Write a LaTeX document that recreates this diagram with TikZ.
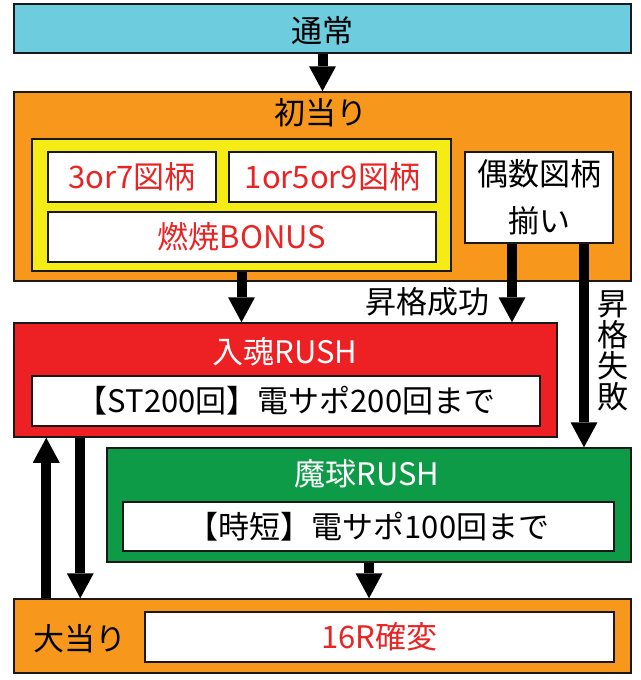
\documentclass[tikz,border=0pt]{standalone}
\usepackage{fontspec}
\newfontfamily\jpfont{Noto Sans CJK JP}
\usepackage{xcolor}
\usepackage{tikz}
\usetikzlibrary{arrows.meta}
\definecolor{tsujocyan}{HTML}{6DCCDD}
\definecolor{atariorange}{HTML}{F7981D}
\definecolor{bonusyellow}{HTML}{F6EC15}
\definecolor{konred}{HTML}{ED2024}
\definecolor{magreen}{HTML}{0E9B48}
\definecolor{txtred}{HTML}{EA2424}
\newcommand{\jpbig}{\jpfont\fontsize{31}{36}\selectfont}
\tikzstyle{panel} = [rectangle, draw=black!90, line width=1.5pt, inner sep=0pt, font=\jpbig]
\tikzstyle{whitebox} = [panel, fill=white]
\tikzstyle{caption} = [inner sep=0pt, font=\jpbig]
\tikzstyle{arrow} = [line width=10pt, -{Triangle[width=27pt,length=25pt,line width=0pt]}]

\begin{document}
\begin{tikzpicture}[x=1pt, y=-1pt]
    \useasboundingbox (0,0) rectangle (640,680);
    % Define blocks
    \node (tsujo) [panel, fill=tsujocyan, minimum width=617pt, minimum height=49pt] at (322.5,28.5) {};
    \node (tsujotxt) [caption] at (322,31) {通常};
    \node (hatsu) [panel, fill=atariorange, minimum width=617pt, minimum height=189pt] at (322.5,186.5) {};
    \node (hatsutxt) [caption] at (321,113) {初当り};
    \node (gold) [panel, fill=bonusyellow, minimum width=419pt, minimum height=132pt] at (241.5,205) {};
    \node (sanshichi) [whitebox, text=txtred, minimum width=168pt, minimum height=50pt] at (132,177) {3or7図柄};
    \node (ichigoku) [whitebox, text=txtred, minimum width=207pt, minimum height=50pt] at (332.5,177) {1or5or9図柄};
    \node (bonus) [whitebox, text=txtred, minimum width=388pt, minimum height=50pt] at (242,237) {燃焼BONUS};
    \node (guusu) [whitebox, align=center, font=\jpfont\fontsize{31}{47}\selectfont, minimum width=148pt, minimum height=91pt] at (539,197.5) {偶数図柄\\揃い};
    \node (konrush) [panel, fill=konred, minimum width=543pt, minimum height=114pt] at (285.5,380) {};
    \node (konrushtxt) [caption, text=white] at (285,352) {入魂RUSH};
    \node (konst) [whitebox, minimum width=508pt, minimum height=50pt] at (286,401) {【ST200回】電サポ200回まで};
    \node (marush) [panel, fill=magreen, minimum width=524pt, minimum height=114pt] at (369,505) {};
    \node (marushtxt) [caption, text=white] at (367,474) {魔球RUSH};
    \node (majitan) [whitebox, minimum width=491pt, minimum height=49pt] at (368.5,526.5) {【時短】電サポ100回まで};
    \node (oatari) [panel, fill=atariorange, minimum width=617pt, minimum height=74pt] at (322.5,636) {};
    \node (oataritxt) [caption] at (80,639) {大当り};
    \node (kakuhen) [whitebox, text=txtred, minimum width=469pt, minimum height=50pt] at (379.5,637) {16R確変};
    \node (seiko) [caption] at (427,302) {昇格成功};
    \node (shippai) [caption, align=center, font=\jpfont\fontsize{31}{31}\selectfont] at (613,351) {昇\\格\\失\\敗};

    % Draw arrows
    \draw [arrow] (tsujo) -- (hatsu);
    \draw [arrow] (gold.south) -- (gold.south |- konrush.north);
    \draw [arrow] ([xshift=-27pt]guusu.south) -- ([xshift=-27pt]guusu.south |- konrush.north);
    \draw [arrow] ([xshift=45pt]guusu.south) -- ([xshift=45pt]guusu.south |- marush.north);
    \draw [arrow] (marush.south) -- (marush.south |- oatari.north);
    \draw [arrow] ([xshift=33pt]oatari.north west) -- ([xshift=33pt]konrush.south west);
    \draw [arrow] ([xshift=67pt]konrush.south west) -- ([xshift=67pt]oatari.north west);
\end{tikzpicture}
\end{document}
